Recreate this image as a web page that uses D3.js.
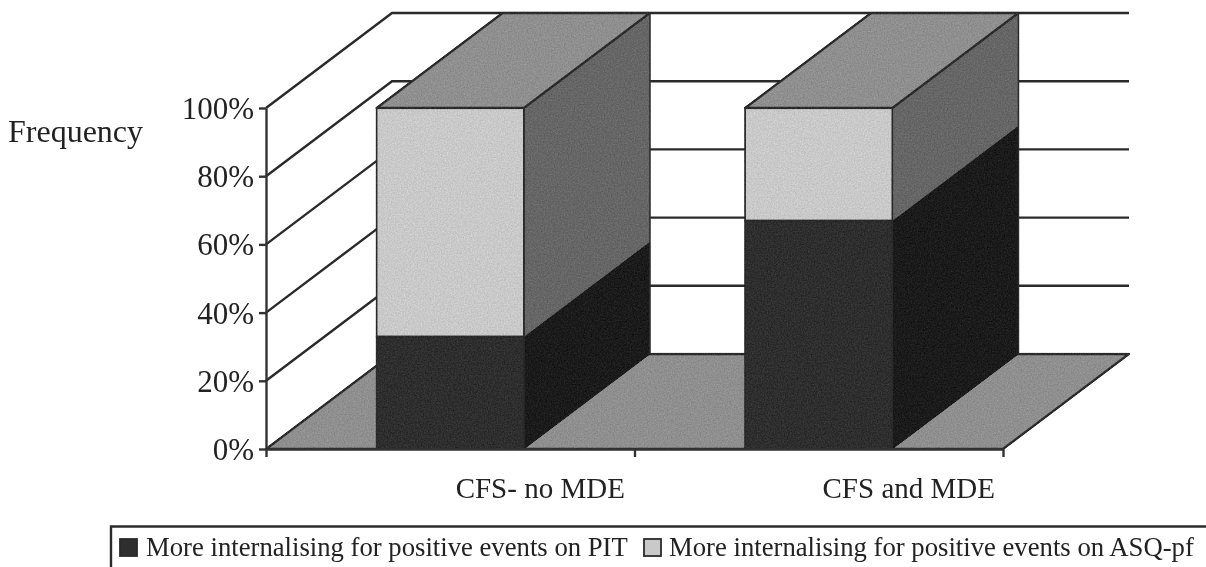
<!DOCTYPE html>
<html>
<head>
<meta charset="utf-8">
<script src="https://cdn.jsdelivr.net/npm/d3@7"></script>
<style>
    html, body { margin:0; padding:0; background:#fff; overflow:hidden; }
    text { font-family:"Liberation Serif", serif; fill:#222; }
    .axis path, .axis line { stroke:#333; stroke-width:2.4; }
</style>
</head>
<body>
<div id="chart"></div>
<script>
// stacked 3D-look column chart, scanned grey look
const categories = ["CFS- no MDE","CFS and MDE"];
const pitValues = [33,67];
const asqValues = [67,33];
const yTicks = [0,20,40,60,80,100];
const legendLabels = ["More internalising for positive events on PIT","More internalising for positive events on ASQ-pf"];

const totalW=1206, totalH=567;
const plotL=266, plotR=1003, plotB=449, plotT=108;
const depthX=126, depthY=95;
const ink="#2b2b2b";

const svg = d3.select("#chart").append("svg").attr("width",totalW).attr("height",totalH).style("display","block");

const defs = svg.append("defs");
defs.append("filter").attr("id","soft").append("feGaussianBlur").attr("stdDeviation",0.45);

// paper grain on the filled faces
const grain = defs.append("filter").attr("id","grain").attr("color-interpolation-filters","sRGB");
grain.append("feTurbulence").attr("type","fractalNoise").attr("baseFrequency",0.7).attr("numOctaves",2).attr("seed",4).attr("result","n");
grain.append("feColorMatrix").attr("in","n").attr("type","matrix")
    .attr("values","1 0 0 0 0  1 0 0 0 0  1 0 0 0 0  0 0 0 0 1").attr("result","g");
grain.append("feComposite").attr("in","SourceGraphic").attr("in2","g").attr("operator","arithmetic")
    .attr("k1",0).attr("k2",1).attr("k3",0.16).attr("k4",-0.08).attr("result","a");
grain.append("feComposite").attr("in","a").attr("in2","SourceAlpha").attr("operator","in");

const y = d3.scaleLinear().domain([0,100]).range([plotB,plotT]);
const x = d3.scaleBand().domain(categories).range([plotL,plotR]).paddingInner(0.6).paddingOuter(0.3);
const xEdges = d3.scaleLinear().domain([0,categories.length]).range([plotL,plotR]);

const poly = pts => pts.map(p=>p.join(",")).join(" ");
const chart = svg.append("g").attr("filter","url(#soft)");

// back wall + side wall gridlines
yTicks.slice(1).forEach(t => {
    chart.append("polyline").attr("fill","none").attr("stroke",ink).attr("stroke-width",2.4)
        .attr("points",poly([[plotL,y(t)],[plotL+depthX,y(t)-depthY],[plotR+depthX,y(t)-depthY]]));
});

// floor
chart.append("polygon").attr("fill","#8f8f8f").attr("stroke",ink).attr("stroke-width",2.4).attr("stroke-linejoin","round")
    .attr("filter","url(#grain)")
    .attr("points",poly([[plotL,plotB],[plotR,plotB],[plotR+depthX,plotB-depthY],[plotL+depthX,plotB-depthY]]));

// bars: bottom segment then top segment, each with front + side face
const segments = [
    {values:pitValues.map(v=>[0,v]), front:"#2e2e2e", side:"#1b1b1b"},
    {values:asqValues.map((v,i)=>[pitValues[i],pitValues[i]+v]), front:"#c9c9c9", side:"#666666"}
];
categories.forEach((cat,i) => {
    const x0=x(cat), x1=x0+x.bandwidth();
    segments.forEach(seg => {
        const y0=y(seg.values[i][0]), y1=y(seg.values[i][1]);
        chart.append("polygon").attr("fill",seg.side).attr("stroke",seg.side).attr("stroke-width",1)
            .attr("filter","url(#grain)")
            .attr("points",poly([[x1,y0],[x1+depthX,y0-depthY],[x1+depthX,y1-depthY],[x1,y1]]));
        chart.append("rect").attr("x",x0).attr("y",y1).attr("width",x.bandwidth()).attr("height",y0-y1)
            .attr("filter","url(#grain)")
            .attr("fill",seg.front).attr("stroke",ink).attr("stroke-width",1.8);
    });
    const yt=y(pitValues[i]+asqValues[i]);
    chart.append("polygon").attr("fill","#8f8f8f").attr("stroke",ink).attr("stroke-width",2.4).attr("stroke-linejoin","round")
        .attr("filter","url(#grain)")
        .attr("points",poly([[x0,yt],[x1,yt],[x1+depthX,yt-depthY],[x0+depthX,yt-depthY]]));
    chart.append("line").attr("x1",x1+depthX).attr("x2",x1+depthX).attr("y1",yt-depthY).attr("y2",plotB-depthY)
        .attr("stroke",ink).attr("stroke-width",1.5);
    chart.append("line").attr("x1",x1).attr("x2",x1).attr("y1",yt).attr("y2",plotB)
        .attr("stroke",ink).attr("stroke-width",1);
});

// axes
chart.append("g").attr("class","axis").attr("transform",`translate(${plotL},0)`)
    .call(d3.axisLeft(y).tickValues(yTicks).tickFormat("").tickSize(7).tickSizeOuter(0));
chart.append("g").attr("class","axis").attr("transform",`translate(0,${plotB})`)
    .call(d3.axisBottom(xEdges).tickValues(d3.range(categories.length+1)).tickFormat("").tickSize(8).tickSizeOuter(0));

// labels
const labels = svg.append("g").attr("filter","url(#soft)");
yTicks.forEach(t => {
    labels.append("text").attr("x",254).attr("y",y(t)+11).attr("text-anchor","end").style("font-size","31px").text(t+"%");
});
labels.append("text").attr("x",8).attr("y",142).style("font-size","32px").text("Frequency");
categories.forEach(cat => {
    labels.append("text").attr("x",x(cat)+x.bandwidth()/2+90).attr("y",498).attr("text-anchor","middle")
        .style("font-size","29px").text(cat);
});

// legend
const legendSwatch = [120,644], legendText = [146,669];
labels.append("path").attr("fill","none").attr("stroke",ink).attr("stroke-width",2.4).attr("d","M1206,526.5H111V567");
legendLabels.forEach((label,i) => {
    labels.append("rect").attr("x",legendSwatch[i]).attr("y",539).attr("width",17).attr("height",17)
        .attr("fill",segments[i].front).attr("stroke",ink).attr("stroke-width",1.8);
    labels.append("text").attr("x",legendText[i]).attr("y",556).style("font-size","26.7px").text(label);
});
</script>
</body>
</html>
